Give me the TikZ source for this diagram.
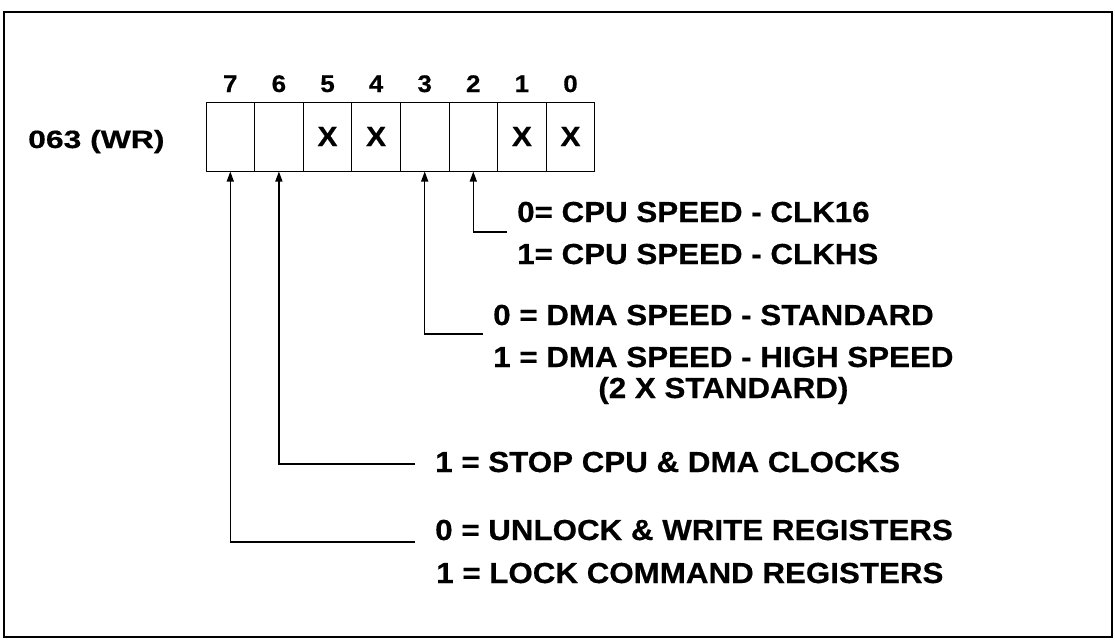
\documentclass[tikz,border=0pt]{standalone}
\usepackage{fontspec}
\setmainfont{Liberation Sans}[FakeStretch=1.08, BoldFeatures={FakeBold=0.5}]
\usetikzlibrary{arrows.meta}
\begin{document}
\begin{tikzpicture}[x=1pt,y=-1pt,
  cell/.style={draw, line width=1pt, minimum width=48.6pt, minimum height=69pt, inner sep=0pt, font=\bfseries\fontsize{28}{28}\selectfont},
  bitnum/.style={inner sep=0pt, anchor=base, font=\bfseries\fontsize{24}{24}\selectfont},
  txt/.style={inner sep=0pt, anchor=base west, font=\bfseries\fontsize{29}{29}\selectfont},
  regname/.style={inner sep=0pt, anchor=base west, font=\bfseries\fontsize{25}{25}\selectfont},
  conn/.style={line width=1.3pt, -{Triangle[length=10pt,width=7pt]}},
  frame/.style={line width=1.5pt}]
\useasboundingbox (0,0) rectangle (1115,640);
\draw[frame] (4,12) rectangle (1112,637);
% register cells
\foreach \b/\c [count=\i from 0] in {7/,6/,5/X,4/X,3/,2/,1/X,0/X}{
  \node[cell] (c\b) at ({206+48.6*\i+24.3},136.5) {\c};
  \node[bitnum] (n\b) at ({206+48.6*\i+24.3},92) {\b};
}
\node[regname] (reg) at (28,148) {\scalebox{1.18}[1]{063 (WR)}};
% descriptions
\node[txt] (t2a) at (517,222) {0= CPU SPEED - CLK16};
\node[txt] (t2b) at (517,264) {1= CPU SPEED - CLKHS};
\node[txt] (t3a) at (493,325) {0 = DMA SPEED - STANDARD};
\node[txt] (t3b) at (493,367) {1 = DMA SPEED - HIGH SPEED};
\node[txt, anchor=base] (t3c) at ([yshift=-31pt]t3b.base) {(2 X STANDARD)};
\node[txt] (t6) at (435,472) {1 = STOP CPU \& DMA CLOCKS};
\node[txt] (t7a) at (435,540) {0 = UNLOCK \& WRITE REGISTERS};
\node[txt] (t7b) at (436,583) {1 = LOCK COMMAND REGISTERS};
% connector ends
\coordinate (e2) at (507,232);
\coordinate (e3) at (483,334);
\coordinate (e6) at (415,464);
\coordinate (e7) at (415,542);
\draw[conn] (e2) -| (c2.south);
\draw[conn] (e3) -| (c3.south);
\draw[conn] (e6) -| (c6.south);
\draw[conn] (e7) -| (c7.south);
\end{tikzpicture}
\end{document}
